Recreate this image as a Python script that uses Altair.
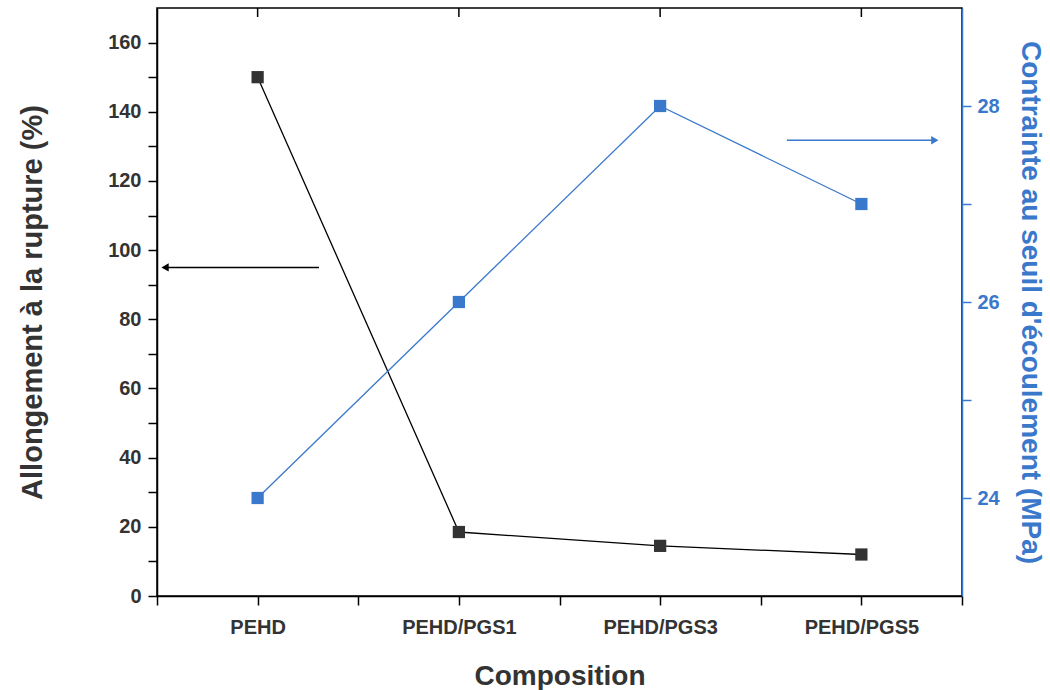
import altair as alt
import pandas as pd

categories = ["PEHD", "PEHD/PGS1", "PEHD/PGS3", "PEHD/PGS5"]
positions = [1, 2, 3, 4]
elongation = [150, 18.5, 14.5, 12]        # Allongement à la rupture (%)
stress = [24, 26, 28, 27]                 # Contrainte au seuil d'écoulement (MPa)

# annotation arrows (x in category-index units, y in each axis' units)
black_arrow_x = [1.305, 0.54]
black_arrow_y = [95, 95]
blue_arrow_x = [3.63, 4.365]
blue_arrow_y = [27.65, 27.65]

x_ticks = [0.5, 1, 1.5, 2, 2.5, 3, 3.5, 4, 4.5]
left_ticks = list(range(0, 170, 10))
right_ticks = [24, 25, 26, 27, 28]

BLACK = "#333333"
BLUE = "#3a78cc"
FONT = "Liberation Sans"

df = pd.DataFrame({"idx": positions, "comp": categories,
                   "elong": elongation, "stress": stress})
ba = pd.DataFrame({"idx": black_arrow_x, "elong": black_arrow_y})
bl = pd.DataFrame({"idx": blue_arrow_x, "stress": blue_arrow_y})
top = pd.DataFrame({"idx": positions})

label_expr = ("datum.value == 1 ? 'PEHD' : datum.value == 2 ? 'PEHD/PGS1' : "
              "datum.value == 3 ? 'PEHD/PGS3' : datum.value == 4 ? 'PEHD/PGS5' : ''")

xscale = alt.Scale(domain=[0.5, 4.5], nice=False, zero=False)
x_axis = alt.Axis(values=x_ticks, labelExpr=label_expr, grid=False,
                  tickSize=9, tickWidth=1.5, tickColor="black",
                  domainColor="black", domainWidth=1.5,
                  labelFont=FONT, labelFontSize=20, labelFontWeight="bold",
                  labelColor=BLACK, labelPadding=12,
                  titleFont=FONT, titleFontSize=28, titleFontWeight="bold",
                  titleColor=BLACK, titlePadding=25)
X = alt.X("idx:Q", scale=xscale, title="Composition", axis=x_axis)

lscale = alt.Scale(domain=[0, 170], nice=False)
left_axis = alt.Axis(values=left_ticks,
                     labelExpr="datum.value % 20 == 0 ? datum.value : ''",
                     grid=False, tickSize=9, tickWidth=1.5, tickColor="black",
                     domainColor="black", domainWidth=1.5,
                     labelFont=FONT, labelFontSize=20, labelFontWeight="bold",
                     labelColor=BLACK, labelPadding=7,
                     titleFont=FONT, titleFontSize=29, titleFontWeight="bold",
                     titleColor=BLACK, titlePadding=60)
YL = alt.Y("elong:Q", scale=lscale, axis=left_axis,
           title="Allongement à la rupture (%)")

rscale = alt.Scale(domain=[23, 29], nice=False, zero=False)
right_axis = alt.Axis(orient="right", values=right_ticks,
                      labelExpr="datum.value % 2 == 0 ? datum.value : ''",
                      grid=False, tickSize=9, tickWidth=1.5, tickColor=BLUE,
                      domainColor=BLUE, domainWidth=1.5,
                      labelFont=FONT, labelFontSize=20, labelFontWeight="bold",
                      labelColor=BLUE, labelPadding=6,
                      titleFont=FONT, titleFontSize=28, titleFontWeight="bold",
                      titleColor=BLUE, titlePadding=16)
YR = alt.Y("stress:Q", scale=rscale, axis=right_axis,
           title="Contrainte au seuil d'écoulement (MPa)")

base = alt.Chart(df)

black_line = base.mark_line(color="black", strokeWidth=1.3).encode(x=X, y=YL)
black_pts = base.mark_square(color=BLACK, size=150, opacity=1).encode(x=X, y=YL)
black_arrow = alt.Chart(ba).mark_line(color="black", strokeWidth=1.5).encode(x=X, y=YL)
black_head = alt.Chart(ba.iloc[[1]]).mark_point(
    shape="triangle-left", filled=True, color="black", size=70, opacity=1).encode(x=X, y=YL)
top_ticks = alt.Chart(top).mark_rule(color="black", strokeWidth=1.5).encode(
    x=X, y=alt.value(0), y2=alt.value(9))

left = alt.layer(black_line, black_pts, black_arrow, black_head, top_ticks)

blue_line = base.mark_line(color=BLUE, strokeWidth=1.3).encode(x=X, y=YR)
blue_pts = base.mark_square(color=BLUE, size=150, opacity=1).encode(x=X, y=YR)
blue_arrow = alt.Chart(bl).mark_line(color=BLUE, strokeWidth=1.5).encode(x=X, y=YR)
blue_head = alt.Chart(bl.iloc[[1]]).mark_point(
    shape="triangle-right", filled=True, color=BLUE, size=70, opacity=1).encode(x=X, y=YR)

right = alt.layer(blue_line, blue_pts, blue_arrow, blue_head)

chart = alt.layer(left, right).resolve_scale(y="independent").properties(
    width=805, height=588,
    autosize=alt.AutoSizeParams(type="none"),
    padding={"left": 157, "top": 8, "right": 88, "bottom": 94},
    background="white",
).configure_view(stroke="black", strokeWidth=1.5)

chart.save("out.html", embed_options={"renderer": "svg", "actions": False})
